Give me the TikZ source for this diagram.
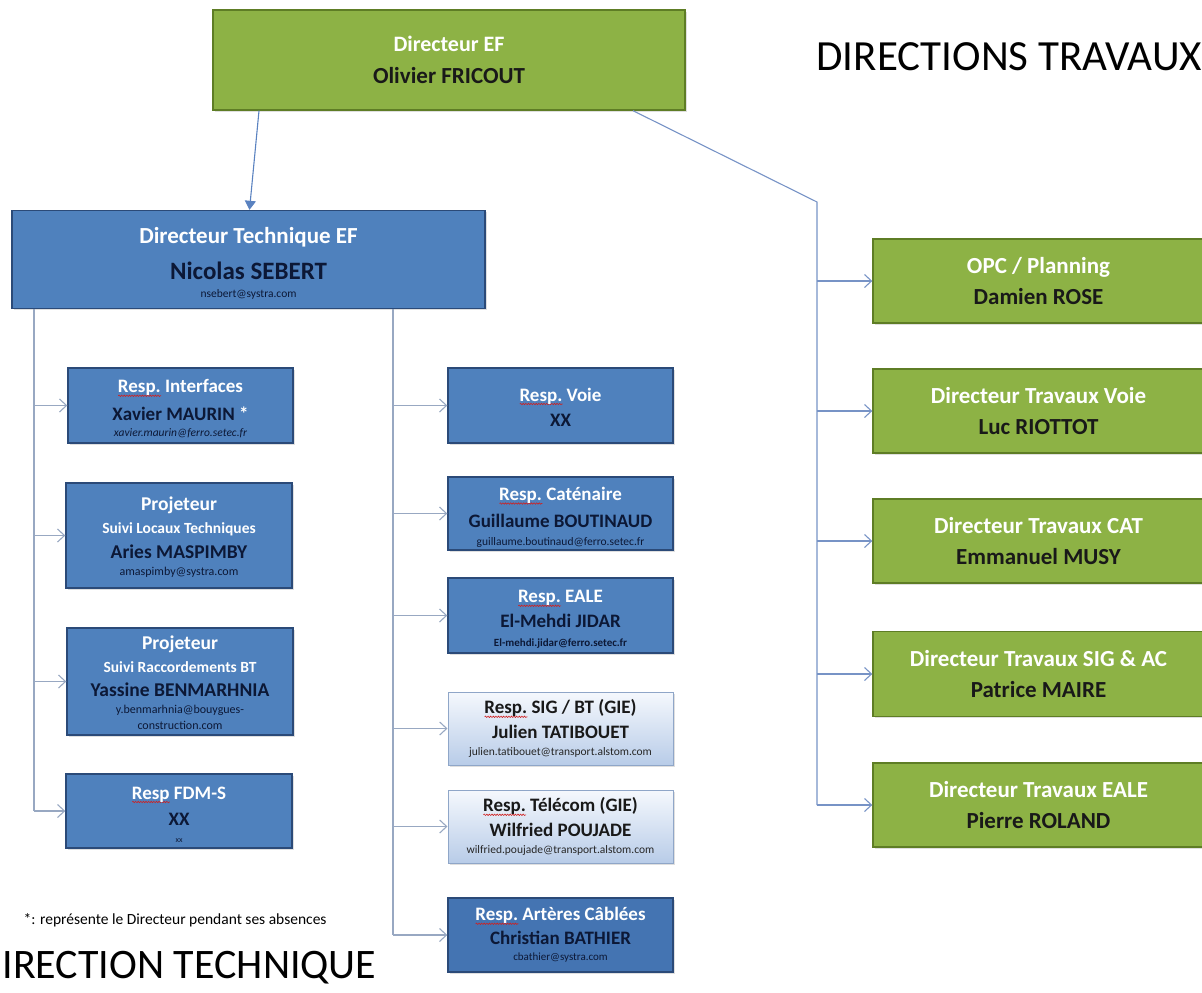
\documentclass[tikz,border=0pt]{standalone}
\usepackage{fontspec}
\setmainfont{Carlito}
\usetikzlibrary{arrows.meta,shadows,decorations.pathmorphing}

\definecolor{greenfill}{HTML}{8DB245}
\definecolor{greenedge}{HTML}{5E7D25}
\definecolor{bluefill}{HTML}{4F81BD}
\definecolor{bluedark}{HTML}{4474B2}
\definecolor{blueedge}{HTML}{2B4A78}
\definecolor{lighttop}{HTML}{F5F8FD}
\definecolor{lightbot}{HTML}{B8CCE8}
\definecolor{lightedge}{HTML}{8FA6C8}
\definecolor{namenavy}{HTML}{0C1836}
\definecolor{linkgrey}{HTML}{98A8C2}
\definecolor{linkblue}{HTML}{7793C6}
\definecolor{arrowblue}{HTML}{5A82C0}
\definecolor{squigred}{HTML}{D02020}

% red spell-check squiggle under a word
\newsavebox\squigbox
\newlength\squigw
\newcommand\squig[1]{\sbox\squigbox{#1}\setlength\squigw{\wd\squigbox}%
  \rlap{\smash{\tikz[baseline=0pt]\draw[draw=squigred, line width=0.6pt, decorate,
      decoration={snake, amplitude=0.7pt, segment length=2.6pt}] (0pt,-3pt) -- (\squigw,-3pt);}}%
  \usebox\squigbox}

\newcommand\fs[2]{\fontsize{#1}{#2}\selectfont}
% extra room above a first line, to lower a text block in its box
\newcommand\lift[1]{\rule{0pt}{#1}}

\tikzset{
  card/.style={draw, line width=1.4pt, inner sep=0pt, align=center,
    drop shadow={opacity=0.25, shadow xshift=1.5pt, shadow yshift=-1.5pt}},
  greencard/.style={card, fill=greenfill, draw=greenedge},
  bluecard/.style={card, fill=bluefill, draw=blueedge},
  lightcard/.style={card, top color=lighttop, bottom color=lightbot, draw=lightedge, line width=1pt},
  link/.style={draw=linkgrey, line width=1.1pt},
  rlink/.style={draw=linkblue, line width=1.1pt},
  tip/.style={-{Straight Barb[length=7pt,width=13pt,line width=1.1pt]}},
  gfont/.style={font=\bfseries\fs{23}{31}},
}

\begin{document}
\begin{tikzpicture}[x=1pt,y=-1pt]
\useasboundingbox (0,0) rectangle (1202,993);

% ---------- top director ----------
\node[greencard, minimum width=472, minimum height=100, font=\bfseries\fs{22}{32}] (dir) at (449,60)
  {\color{white}Directeur EF\\ \fs{23}{30}\color{black!90}Olivier FRICOUT};

\node[anchor=west, font=\fs{43}{50}] (dt) at (813,57) {DIRECTIONS TRAVAUX};

% ---------- technical director ----------
\node[bluecard, minimum width=473, minimum height=98, font=\bfseries\fs{10}{18}] (tech) at (248.5,259.5)
  {\lift{24pt}\fs{23}{30}\color{white}Directeur Technique EF\\[14pt]
   \fs{25}{27}\color{namenavy}Nicolas SEBERT\\
   \fs{11.5}{16}\mdseries\color{namenavy}nsebert@systra.com};

% ---------- left column ----------
\node[bluecard, minimum width=225, minimum height=75, font=\bfseries\fs{10}{16}] (ri) at (180.5,405.5)
  {\lift{19.5pt}\fs{19}{22}\color{white}\squig{Resp.} Interfaces\\[10pt]
   \fs{19}{21}\color{namenavy}Xavier MAURIN \textcolor{white}{*}\\
   \fs{11.5}{19}\mdseries\itshape\color{namenavy}xavier.maurin@ferro.setec.fr};

\node[bluecard, minimum width=226, minimum height=105, font=\bfseries\fs{10}{17}] (p1) at (179,535.5)
  {\lift{17pt}\fs{19.5}{22}\color{white}Projeteur\\[6pt]
   \fs{15.5}{23}\color{white}Suivi Locaux Techniques\\[8pt]
   \fs{19.5}{23}\color{namenavy}Aries MASPIMBY\\
   \fs{12}{19}\mdseries\color{namenavy}amaspimby@systra.com};

\node[bluecard, minimum width=226, minimum height=107, font=\bfseries\fs{10}{17}] (p2) at (180,681.5)
  {\lift{17pt}\fs{19.5}{22}\color{white}Projeteur\\[6pt]
   \fs{15.5}{23}\color{white}Suivi Raccordements BT\\[7pt]
   \fs{19.5}{23}\color{namenavy}Yassine BENMARHNIA\\
   \fs{12}{19}\mdseries\color{namenavy}y.benmarhnia@bouygues-\\[-1pt]
   \fs{12}{15}\mdseries\color{namenavy}construction.com};

\node[bluecard, minimum width=226, minimum height=74, font=\bfseries\fs{10}{17}] (fdm) at (179,811)
  {\lift{19pt}\fs{19}{22}\color{white}\squig{Resp} FDM-S\\[9pt]
   \fs{19}{22}\color{namenavy}XX\\
   \fs{8}{16}\mdseries\color{namenavy}xx};

\node[anchor=west, font=\fs{15.5}{18}] (note) at (20,920) {*: représente le Directeur pendant ses absences};

\node[anchor=west, font=\fs{42}{48}] (dtech) at (-1,968) {IRECTION TECHNIQUE};

% ---------- middle column ----------
\node[bluecard, minimum width=225, minimum height=75, font=\bfseries\fs{10}{25}] (rv) at (560.5,405.5)
  {\lift{16pt}\fs{19}{22}\color{white}\squig{Resp.} Voie\\
   \fs{19}{25}\color{namenavy}XX};

\node[bluecard, minimum width=225, minimum height=73, font=\bfseries\fs{10}{18}] (rc) at (560.5,513.5)
  {\lift{21pt}\fs{19}{22}\color{white}\squig{Resp.} Caténaire\\[9pt]
   \fs{19}{26}\color{namenavy}Guillaume BOUTINAUD\\
   \fs{11.5}{19}\mdseries\color{namenavy}guillaume.boutinaud@ferro.setec.fr};

\node[bluecard, minimum width=225, minimum height=75, font=\bfseries\fs{10}{18.5}] (re) at (560.5,615.5)
  {\lift{20pt}\fs{19}{22}\color{white}\squig{Resp.} EALE\\[6.5pt]
   \fs{19}{24}\color{namenavy}El-Mehdi JIDAR\\
   \fs{11}{19}\color{namenavy}El-mehdi.jidar@ferro.setec.fr};

\node[lightcard, minimum width=225, minimum height=73, font=\bfseries\fs{10}{16.5}] (rs) at (560.5,728.5)
  {\fs{19}{22}\color{black!90}\squig{Resp.} SIG / BT (GIE)\\[8.5pt]
   \fs{19}{26}\color{black!90}Julien TATIBOUET\\
   \fs{11.5}{19}\mdseries\color{black!85}julien.tatibouet@transport.alstom.com};

\node[lightcard, minimum width=225, minimum height=73, font=\bfseries\fs{10}{16.5}] (rt) at (560.5,826.5)
  {\fs{19}{22}\color{black!90}\squig{Resp.} Télécom (GIE)\\[8.5pt]
   \fs{19}{26}\color{black!90}Wilfried POUJADE\\
   \fs{11.5}{19}\mdseries\color{black!85}wilfried.poujade@transport.alstom.com};

\node[bluecard, fill=bluedark, minimum width=225, minimum height=74, font=\bfseries\fs{10}{16.5}] (ra) at (560.5,935)
  {\fs{19}{22}\color{white}\squig{Resp.} Artères Câblées\\[7pt]
   \fs{19}{26}\color{namenavy}Christian BATHIER\\
   \fs{11}{19}\mdseries\color{namenavy}cbathier@systra.com};

% ---------- works directors ----------
\node[greencard, gfont, minimum width=331, minimum height=84] (g1) at (1038.5,281)
  {\color{white}OPC / Planning\\ \color{black!90}Damien ROSE};
\node[greencard, gfont, minimum width=331, minimum height=84] (g2) at (1038.5,411)
  {\color{white}Directeur Travaux Voie\\ \color{black!90}Luc RIOTTOT};
\node[greencard, gfont, minimum width=331, minimum height=84] (g3) at (1038.5,541)
  {\color{white}Directeur Travaux CAT\\ \color{black!90}Emmanuel MUSY};
\node[greencard, gfont, minimum width=331, minimum height=85] (g4) at (1038.5,674)
  {\color{white}Directeur Travaux SIG \& AC\\ \color{black!90}Patrice MAIRE};
\node[greencard, gfont, minimum width=331, minimum height=84] (g5) at (1038.5,805)
  {\color{white}Directeur Travaux EALE\\ \color{black!90}Pierre ROLAND};

% ---------- connectors ----------
\draw[draw=arrowblue, line width=1.1pt, -{Triangle[length=9pt,width=11pt]}]
  ([xshift=-190pt]dir.south) -- ([xshift=0.5pt]tech.north -| 249,0);

% works branch
\coordinate (bend) at (817,202);
\draw[rlink] ([xshift=184pt]dir.south) -- (bend) -- (bend |- g5.west);
\foreach \g in {g1,g2,g3,g4,g5}
  \draw[rlink, tip] (bend |- \g.west) -- (\g.west);

% left branch
\coordinate (lft) at (34,0);
\draw[link] (tech.south -| lft) -- (lft |- fdm.west);
\foreach \b in {ri,p1,p2,fdm}
  \draw[link, tip] (lft |- \b.west) -- (\b.west);

% middle branch
\coordinate (mid) at (393,0);
\draw[link] (tech.south -| mid) -- (mid |- ra.west);
\foreach \b in {rv,rc,re,rs,rt,ra}
  \draw[link, tip] (mid |- \b.west) -- (\b.west);
\end{tikzpicture}
\end{document}
